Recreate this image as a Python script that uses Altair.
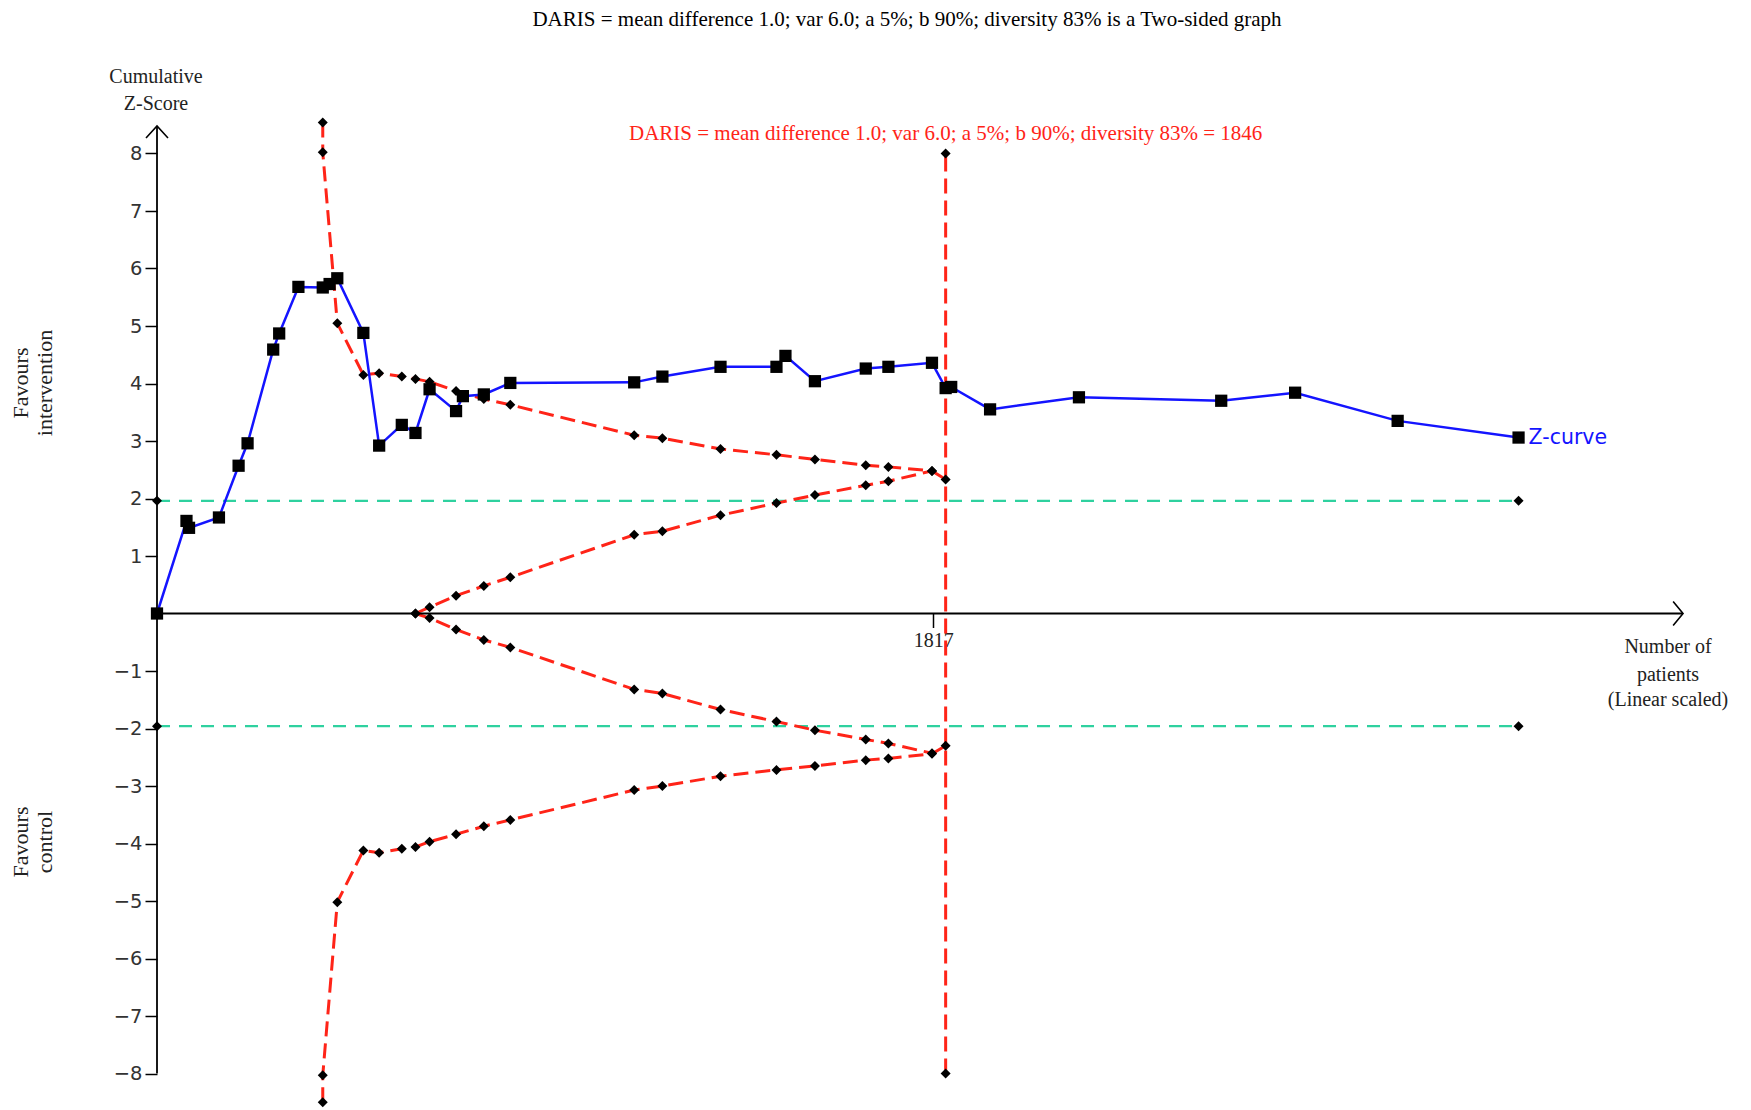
import altair as alt
import pandas as pd

# ---------------- data ----------------
# Z-curve: cumulative number of patients and cumulative Z-score
z_n = [0, 69, 75, 145, 191, 212, 272, 286, 331, 388, 404, 422, 483, 520, 573, 605, 638,
       700, 716, 765, 827, 1117, 1183, 1319, 1450, 1471, 1540, 1659, 1712, 1814, 1846,
       1859, 1950, 2158, 2491, 2664, 2904, 3187]
z_val = [0.00, 1.61, 1.49, 1.67, 2.57, 2.96, 4.59, 4.87, 5.68, 5.67, 5.73, 5.83, 4.88,
         2.92, 3.28, 3.14, 3.90, 3.52, 3.78, 3.81, 4.01, 4.02, 4.12, 4.29, 4.29, 4.48,
         4.04, 4.26, 4.29, 4.36, 3.92, 3.94, 3.55, 3.76, 3.70, 3.84, 3.35, 3.06]

# Trial sequential monitoring boundaries (outer, alpha-spending)
b_n = [388, 388, 422, 483, 520, 573, 605, 638, 700, 765, 827, 1117, 1183, 1319, 1450,
       1540, 1659, 1712, 1814, 1846]
b_upper = [8.54, 8.02, 5.05, 4.15, 4.18, 4.12, 4.08, 4.03, 3.87, 3.73, 3.63, 3.10, 3.05,
           2.86, 2.76, 2.68, 2.58, 2.55, 2.48, 2.33]
b_lower = [-8.50, -8.03, -5.02, -4.12, -4.16, -4.09, -4.06, -3.97, -3.84, -3.70, -3.59,
           -3.07, -3.00, -2.83, -2.72, -2.65, -2.55, -2.52, -2.44, -2.30]

# Inner wedge (futility boundaries)
f_n = [605, 638, 700, 765, 827, 1117, 1183, 1319, 1450, 1540, 1659, 1712, 1814]
f_upper = [0.00, 0.11, 0.31, 0.48, 0.63, 1.37, 1.43, 1.71, 1.92, 2.06, 2.23, 2.30, 2.48]
f_lower = [0.00, -0.08, -0.28, -0.46, -0.59, -1.32, -1.39, -1.67, -1.88, -2.03, -2.19,
           -2.26, -2.43]

# Conventional significance lines
conv_n = [0, 3187]
conv_z = 1.96

# Required information size
ris_n = 1846
ris_z = [-8, 8]

# Axis annotations
x_tick_values = [1817]
y_tick_values = [-8, -7, -6, -5, -4, -3, -2, -1, 1, 2, 3, 4, 5, 6, 7, 8]
y_axis_top = 8.48
x_axis_end = 3572

title_text = "DARIS = mean difference 1.0; var 6.0; a 5%; b 90%; diversity 83% is a Two-sided graph"
ris_text = "DARIS = mean difference 1.0; var 6.0; a 5%; b 90%; diversity 83% = 1846"

# ---------------- layout ----------------
W, H = 1538, 989
PAD = {"left": 157, "top": 119, "right": 56, "bottom": 2}
X_DOMAIN = [0, 3600]
Y_DOMAIN = [-8.6, 8.6]

RED = "#ff2418"
BLUE = "#1414ff"
GREEN = "#2fd19f"
SERIF = "Liberation Serif"
SANS = "DejaVu Sans"

xenc = alt.X("n:Q",
             scale=alt.Scale(domain=X_DOMAIN, nice=False, zero=False),
             axis=alt.Axis(values=x_tick_values, title=None, domain=False, grid=False,
                           tickSize=14, tickColor="black", tickWidth=1.5,
                           labelFont=SERIF, labelFontSize=20, labelColor="#222",
                           labelPadding=3, offset=-H / 2, format="d"))
yenc = alt.Y("z:Q",
             scale=alt.Scale(domain=Y_DOMAIN, nice=False, zero=False),
             axis=alt.Axis(values=y_tick_values, title=None, domain=False, grid=False,
                           tickSize=12, tickColor="black", tickWidth=1.5,
                           labelFont=SANS, labelFontSize=19.5, labelColor="#333",
                           labelPadding=3))

# ---------------- tables ----------------
zdf = pd.DataFrame({"n": z_n, "z": z_val, "i": list(range(len(z_n)))})

rows = []
def add_series(name, ns, zs):
    for k, (a, b) in enumerate(zip(ns, zs)):
        rows.append({"s": name, "n": a, "z": b, "i": k})

add_series("upper", b_n, b_upper)
add_series("lower", b_n, b_lower)
add_series("fut_up", f_n, f_upper)
add_series("fut_low", f_n, f_lower)
add_series("ris", [ris_n, ris_n], ris_z)
bdf = pd.DataFrame(rows)

grows = []
for name, sign in (("g_up", 1), ("g_low", -1)):
    for k, a in enumerate(conv_n):
        grows.append({"s": name, "n": a, "z": sign * conv_z, "i": k})
gdf = pd.DataFrame(grows)

diam_df = pd.concat([bdf, gdf], ignore_index=True)

axis_df = pd.DataFrame({"n": [0, 0], "n2": [0, x_axis_end],
                        "z": [-8, 0], "z2": [y_axis_top, 0]})
yarrow_df = pd.DataFrame({"n": [0], "z": [y_axis_top]})
xarrow_df = pd.DataFrame({"n": [x_axis_end], "z": [0]})
zlabel_df = pd.DataFrame({"n": [z_n[-1]], "z": [z_val[-1]], "t": ["Z-curve"]})
ris_label_df = pd.DataFrame({"n": [ris_n], "z": [8.34], "t": [ris_text]})

# ---------------- layers ----------------
axes_lines = alt.Chart(axis_df).mark_rule(color="black", strokeWidth=1.8).encode(
    x=xenc, x2=alt.X2("n2"), y=yenc, y2=alt.Y2("z2"))

yarrow = alt.Chart(yarrow_df).mark_point(
    shape="M-1,1.1L0,0L1,1.1", filled=False, size=484, color="black",
    strokeWidth=1.6, opacity=1).encode(x=xenc, y=yenc)
xarrow = alt.Chart(xarrow_df).mark_point(
    shape="M-0.9,-1.1L0,0L-0.9,1.1", filled=False, size=484, color="black",
    strokeWidth=1.6, opacity=1).encode(x=xenc, y=yenc)

green_lines = alt.Chart(gdf).mark_line(
    color=GREEN, strokeWidth=2.2, strokeDash=[13, 9]).encode(
    x=xenc, y=yenc, detail="s:N", order="i:Q")

red_lines = alt.Chart(bdf).mark_line(
    color=RED, strokeWidth=3, strokeDash=[15, 7]).encode(
    x=xenc, y=yenc, detail="s:N", order="i:Q")

z_line = alt.Chart(zdf).mark_line(color=BLUE, strokeWidth=2.5).encode(
    x=xenc, y=yenc, order="i:Q")

diamonds = alt.Chart(diam_df).mark_point(
    shape="diamond", filled=True, color="black", size=100, opacity=1).encode(
    x=xenc, y=yenc)

squares = alt.Chart(zdf).mark_square(color="black", size=150, opacity=1).encode(
    x=xenc, y=yenc)

z_label = alt.Chart(zlabel_df).mark_text(
    align="left", baseline="middle", dx=10, font=SANS, fontSize=20.5, color=BLUE).encode(
    x=xenc, y=yenc, text="t:N")

ris_label = alt.Chart(ris_label_df).mark_text(
    align="center", baseline="middle", font=SERIF, fontSize=21, color=RED).encode(
    x=xenc, y=yenc, text="t:N")

# text annotations placed in pixel space (relative to plot origin)
txt = pd.DataFrame({"t": [title_text]})
title_layer = alt.Chart(txt).mark_text(
    align="center", baseline="middle", font=SERIF, fontSize=21, color="black").encode(
    x=alt.value(750), y=alt.value(-99), text="t:N")

def label(text, px, py, size=20, angle=0):
    return alt.Chart(pd.DataFrame({"t": [text]})).mark_text(
        align="center", baseline="middle", font=SERIF, fontSize=size,
        color="#222", angle=angle).encode(
        x=alt.value(px), y=alt.value(py), text="t:N")

labels = [
    label("Cumulative", -1, -42),
    label("Z-Score", -1, -15),
    label("Number of", 1511, 528),
    label("patients", 1511, 556),
    label("(Linear scaled)", 1511, 581),
    label("Favours", -136, 264, 22, 270),
    label("intervention", -112, 264, 22, 270),
    label("Favours", -136, 723, 22, 270),
    label("control", -112, 723, 22, 270),
]

chart = alt.layer(
    green_lines, red_lines, axes_lines, z_line, diamonds, squares,
    yarrow, xarrow, z_label, ris_label, title_layer, *labels
).properties(
    width=W, height=H,
    autosize=alt.AutoSizeParams(type="none"),
    padding=PAD,
    background="white",
).configure_view(stroke=None)

chart.save("out.html", embed_options={"renderer": "svg", "actions": False})
